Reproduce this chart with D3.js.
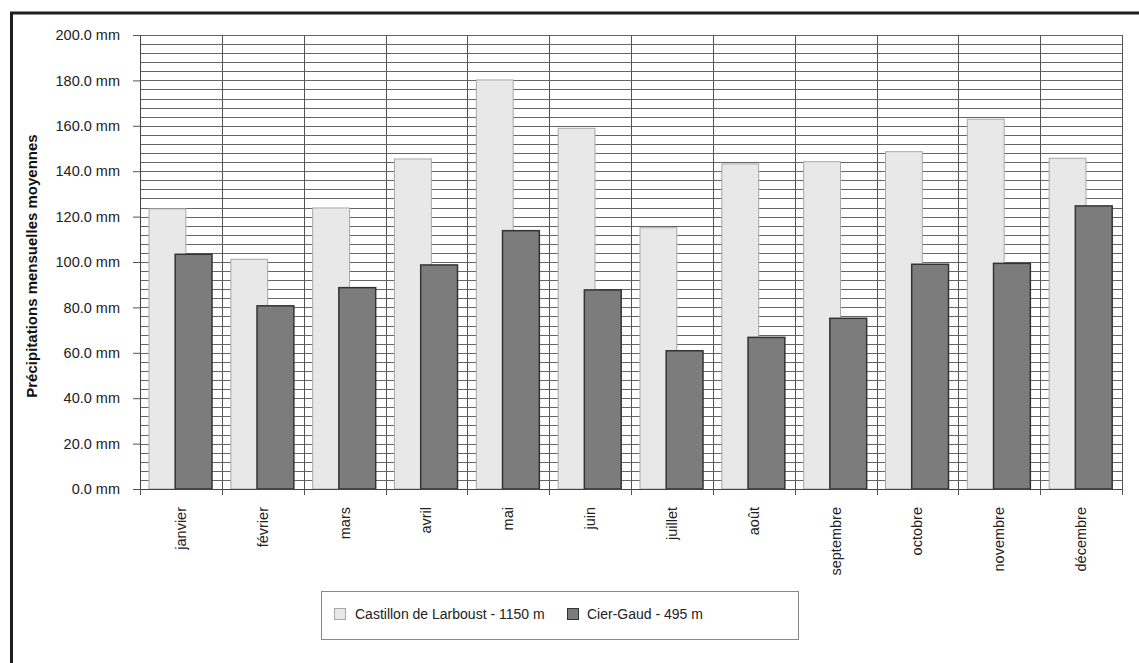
<!DOCTYPE html>
<html>
<head>
<meta charset="utf-8">
<script src="https://cdn.jsdelivr.net/npm/d3@7"></script>
<style>
  html, body { margin: 0; padding: 0; background: #fff; }
  svg { display: block; font-family: "Liberation Sans", Arial, sans-serif; }
</style>
</head>
<body>
<svg id="chart" width="1139" height="663"></svg>
<script>
// Monthly mean precipitation (mm) at two stations
const months = ["janvier", "février", "mars", "avril", "mai", "juin",
                "juillet", "août", "septembre", "octobre", "novembre", "décembre"];
const castillon = [123.4, 101.2, 123.8, 145.4, 180.2, 158.9, 115.1, 143.2, 144.2, 148.6, 162.9, 145.7];
const cierGaud  = [103.4, 80.7, 88.7, 98.7, 113.8, 87.7, 60.9, 66.8, 75.2, 99.0, 99.4, 124.7];
const seriesNames = ["Castillon de Larboust - 1150 m", "Cier-Gaud - 495 m"];
const yTicks = [0, 20, 40, 60, 80, 100, 120, 140, 160, 180, 200];
const yTitle = "Précipitations mensuelles moyennes";

const svg = d3.select("#chart");
const plot = { left: 140, right: 1122, top: 35, bottom: 489 };

const x = d3.scaleBand().domain(months).range([plot.left, plot.right]).padding(0);
const y = d3.scaleLinear().domain([0, 200]).range([plot.bottom, plot.top]);
const bw = x.bandwidth();

// Outer frame (top and left edges)
svg.append("line").attr("x1", 10).attr("x2", 1139).attr("y1", 13).attr("y2", 13)
  .attr("stroke", "#1e1e1e").attr("stroke-width", 3);
svg.append("line").attr("x1", 11.5).attr("x2", 11.5).attr("y1", 12).attr("y2", 663)
  .attr("stroke", "#1e1e1e").attr("stroke-width", 3);

// Horizontal grid every 4 mm
const grid = svg.append("g").attr("class", "grid");
grid.selectAll("line.h").data(d3.range(0, 201, 4)).join("line")
  .attr("class", "h")
  .attr("x1", plot.left).attr("x2", plot.right)
  .attr("y1", d => Math.round(y(d)) + 0.5).attr("y2", d => Math.round(y(d)) + 0.5)
  .attr("stroke", "#666").attr("stroke-width", 1);

// Vertical grid at category boundaries
const bounds = months.map(m => x(m)).concat([plot.right]);
grid.selectAll("line.v").data(bounds).join("line")
  .attr("class", "v")
  .attr("x1", d => Math.round(d) + 0.5).attr("x2", d => Math.round(d) + 0.5)
  .attr("y1", plot.top).attr("y2", plot.bottom)
  .attr("stroke", "#555").attr("stroke-width", 1);

// Bars: light series behind, dark series overlapping in front
const bars = svg.append("g");
bars.selectAll("rect.c").data(months).join("rect")
  .attr("class", "c")
  .attr("x", m => x(m) + 0.11 * bw)
  .attr("width", 0.45 * bw)
  .attr("y", (m, i) => y(castillon[i]))
  .attr("height", (m, i) => y(0) - y(castillon[i]))
  .attr("fill", "#e8e8e8").attr("stroke", "#a8a8a8").attr("stroke-width", 1);

bars.selectAll("rect.g").data(months).join("rect")
  .attr("class", "g")
  .attr("x", m => x(m) + 0.43 * bw)
  .attr("width", 0.45 * bw)
  .attr("y", (m, i) => y(cierGaud[i]))
  .attr("height", (m, i) => y(0) - y(cierGaud[i]))
  .attr("fill", "#7c7c7c").attr("stroke", "#333").attr("stroke-width", 1.5);

// Y axis
const yAxis = d3.axisLeft(y).tickValues(yTicks)
  .tickFormat(d => d3.format(".1f")(d) + " mm")
  .tickSize(7).tickPadding(13);
const gy = svg.append("g").attr("transform", `translate(${plot.left},0)`).call(yAxis);
gy.select(".domain").attr("stroke", "#444");
gy.selectAll(".tick line").attr("stroke", "#555");
gy.selectAll(".tick text").attr("fill", "#222").style("font-size", "14.5px")
  .style("font-family", '"Liberation Sans", Arial, sans-serif');

// X axis
const xAxis = d3.axisBottom(x).tickSize(0).tickPadding(0);
const gx = svg.append("g").attr("transform", `translate(0,${plot.bottom})`).call(xAxis);
gx.select(".domain").attr("stroke", "#444");
gx.selectAll(".tick text")
  .attr("transform", "rotate(-90)")
  .attr("x", -18).attr("y", 0).attr("dy", "0.35em")
  .attr("text-anchor", "end")
  .attr("fill", "#222")
  .style("font-size", "14.5px")
  .style("font-family", '"Liberation Sans", Arial, sans-serif');
// Boundary ticks below the axis
gx.selectAll("line.bt").data(bounds).join("line")
  .attr("class", "bt")
  .attr("x1", d => Math.round(d) + 0.5).attr("x2", d => Math.round(d) + 0.5)
  .attr("y1", 0).attr("y2", 6)
  .attr("stroke", "#555");

// Y axis title
svg.append("text")
  .attr("transform", "translate(37,266) rotate(-90)")
  .attr("text-anchor", "middle")
  .attr("fill", "#111")
  .style("font-weight", "bold")
  .style("font-size", "15px")
  .text(yTitle);

// Legend
const legend = svg.append("g");
legend.append("rect").attr("x", 321.5).attr("y", 591.5).attr("width", 477).attr("height", 48)
  .attr("fill", "#fff").attr("stroke", "#888").attr("stroke-width", 1);
const legendItems = [
  { name: seriesNames[0], fill: "#e8e8e8", stroke: "#a8a8a8", sx: 334, tx: 355 },
  { name: seriesNames[1], fill: "#7c7c7c", stroke: "#333", sx: 567, tx: 587 }
];
legendItems.forEach(it => {
  legend.append("rect").attr("x", it.sx + 0.5).attr("y", 608.5).attr("width", 11).attr("height", 11)
    .attr("fill", it.fill).attr("stroke", it.stroke).attr("stroke-width", 1);
  legend.append("text").attr("x", it.tx).attr("y", 619)
    .attr("fill", "#222").style("font-size", "14px").text(it.name);
});
</script>
</body>
</html>
